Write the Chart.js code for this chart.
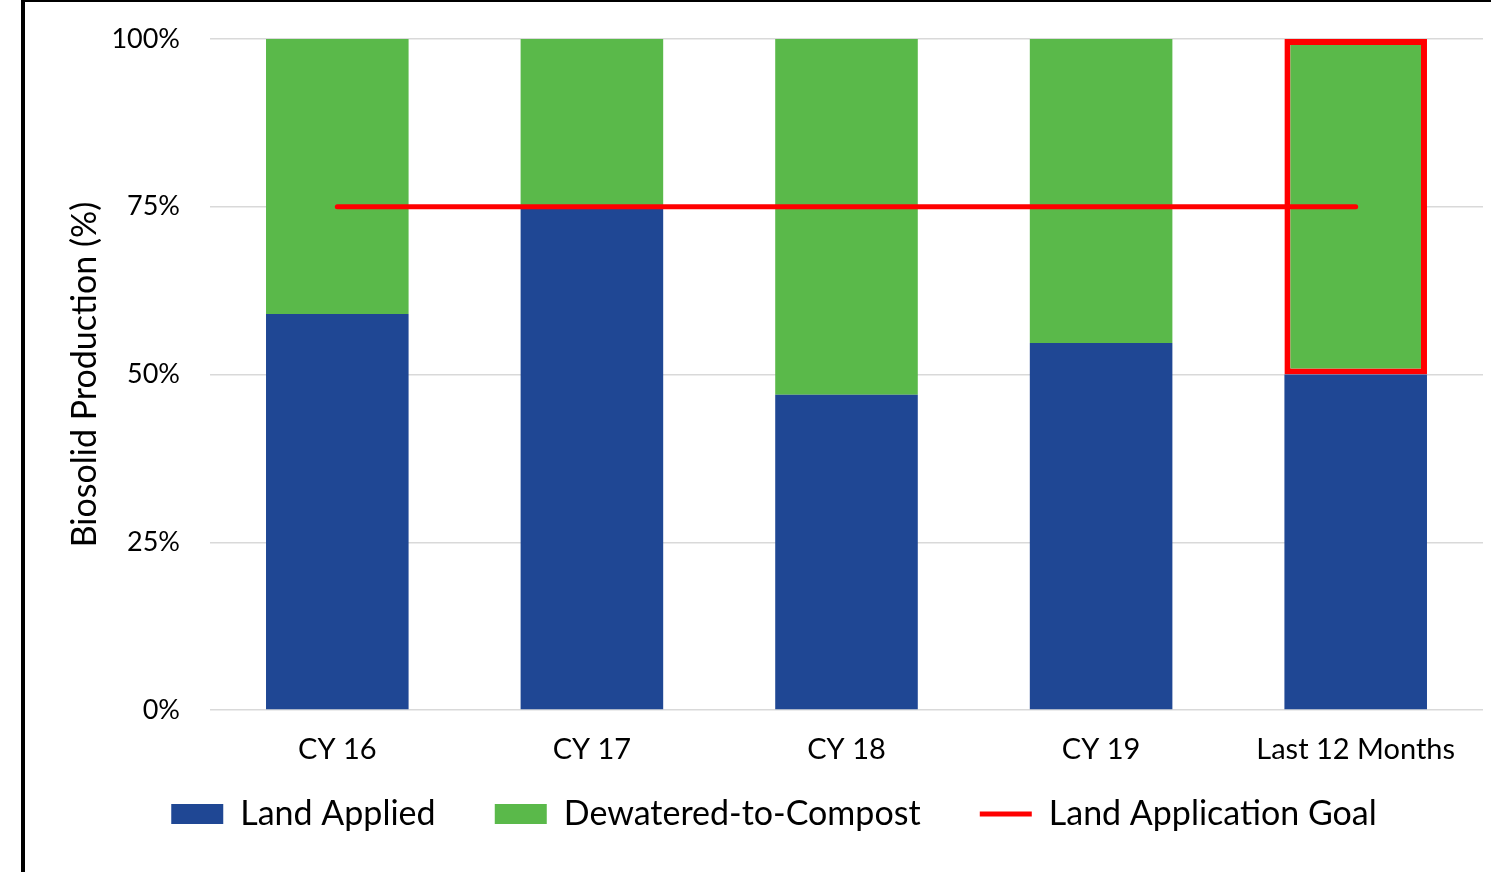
<!DOCTYPE html>
<html>
<head>
<meta charset="utf-8">
<script src="https://cdn.jsdelivr.net/npm/chart.js@4"></script>
<style>
  html, body { margin: 0; padding: 0; background: #fff; }
  #frame {
    position: absolute; left: 21px; top: 0;
    width: 1466px; height: 870px;
    border-left: 4px solid #000; border-top: 2px solid #000;
  }
  canvas { display: block; }
</style>
</head>
<body>
<div id="frame"><canvas id="chart" width="1466" height="870"></canvas></div>
<script>
const categories = ['CY 16', 'CY 17', 'CY 18', 'CY 19', 'Last 12 Months'];
const landApplied = [59, 75, 47, 54.7, 50];
const dewateredToCompost = [41, 25, 53, 45.3, 50];
const applicationGoal = [75, 75, 75, 75, 75];
const yTicks = [0, 25, 50, 75, 100];
const legendNames = ['Land Applied', 'Dewatered-to-Compost', 'Land Application Goal'];

const fontFamily = 'Lato, "Open Sans", sans-serif';

// highlight box only around the last period
const highlightColor = dewateredToCompost.map((v, i) => i === categories.length - 1 ? '#ff0000' : 'rgba(0,0,0,0)');
const highlightWidth = dewateredToCompost.map((v, i) => i === categories.length - 1 ? 6 : 0);

const ctx = document.getElementById('chart').getContext('2d');

new Chart(ctx, {
  type: 'bar',
  data: {
    labels: categories,
    datasets: [
      {
        label: legendNames[0],
        data: landApplied,
        backgroundColor: '#1f4794',
        stack: 'prod',
        order: 1,
      },
      {
        label: legendNames[1],
        data: dewateredToCompost,
        backgroundColor: '#5ab94a',
        borderColor: highlightColor,
        borderWidth: highlightWidth,
        borderSkipped: false,
        stack: 'prod',
        order: 1,
      },
      {
        type: 'line',
        label: legendNames[2],
        data: applicationGoal,
        borderColor: '#ff0000',
        backgroundColor: '#ff0000',
        borderWidth: 5,
        borderCapStyle: 'round',
        pointRadius: 0,
        stack: 'goal',
        order: 0,
      },
    ],
  },
  options: {
    responsive: false,
    animation: false,
    layout: { padding: { left: 40, right: 8, top: 37, bottom: 31 } },
    datasets: {
      bar: { categoryPercentage: 1, barPercentage: 0.56 },
    },
    scales: {
      x: {
        stacked: true,
        grid: { display: false, drawTicks: false },
        border: { display: false },
        ticks: { color: '#000', font: { family: fontFamily, size: 29 }, padding: 22, maxRotation: 0 },
        afterFit: (scale) => { scale.height = 62; },
      },
      y: {
        stacked: true,
        min: 0,
        max: 100,
        afterBuildTicks: (scale) => { scale.ticks = yTicks.map(v => ({ value: v })); },
        grid: { color: '#d9d9d9', lineWidth: 1.5, drawTicks: false },
        border: { display: false },
        ticks: {
          color: '#000',
          font: { family: fontFamily, size: 27 },
          padding: 30,
          callback: (v) => v + '%',
        },
        title: {
          display: true,
          text: 'Biosolid Production (%)',
          color: '#000',
          font: { family: fontFamily, size: 34 },
          padding: 0,
        },
        afterFit: (scale) => {
          scale.width = 145;
          scale.paddingTop = 0;
          scale.paddingBottom = 0;
        },
      },
    },
    plugins: {
      tooltip: { enabled: false },
      legend: {
        position: 'bottom',
        labels: {
          color: '#000',
          font: { family: fontFamily, size: 34 },
          usePointStyle: true,
          pointStyleWidth: 52,
          boxHeight: 20,
          padding: 25,
          sort: (a, b) => a.datasetIndex - b.datasetIndex,
          generateLabels: (chart) => {
            const items = Chart.defaults.plugins.legend.labels.generateLabels(chart);
            items.forEach(it => {
              if (it.datasetIndex < 2) {
                it.pointStyle = 'rect';
                it.lineWidth = 0;
                it.text = it.text + '\u2003 '; // extra gap before the next item
              } else {
                it.pointStyle = 'line';
              }
            });
            return items;
          },
        },
      },
    },
  },
});
</script>
</body>
</html>
